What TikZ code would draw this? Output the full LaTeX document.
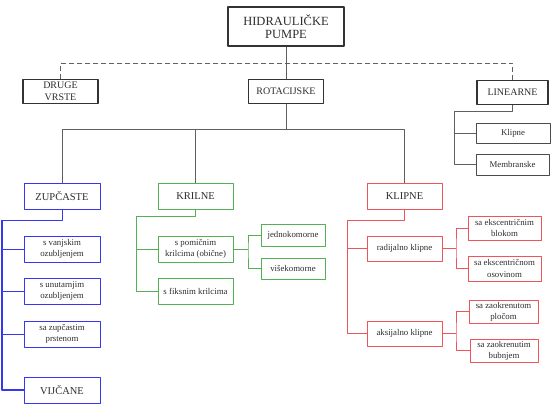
\documentclass[tikz,border=0pt]{standalone}
\usepackage{fontspec}
\setmainfont{Liberation Serif}
\definecolor{plava}{RGB}{55,55,240}
\definecolor{zelena}{RGB}{85,175,85}
\definecolor{crvena}{RGB}{238,85,90}
\definecolor{tekst}{RGB}{45,45,45}
\definecolor{linija}{RGB}{95,95,95}
\begin{document}
\begin{tikzpicture}[x=1pt,y=-1pt,line join=round,font=\fontsize{8.8}{11.2}\selectfont,
	kut/.style={draw,inner sep=0pt,align=center,text=tekst,minimum width=75pt,minimum height=26pt},
	naslov/.style={font=\fontsize{10.5}{11}\selectfont},
	glavna/.style={kut,naslov,line width=1.3pt,draw=black!80},
	siva/.style={kut,line width=.9pt,draw=black!70,minimum width=73pt,minimum height=21pt},
	plavo/.style={kut,line width=1pt,draw=plava},
	zeleno/.style={kut,line width=.8pt,draw=zelena},
	crveno/.style={kut,line width=.8pt,draw=crvena},
	veza/.style={draw=linija,line width=.8pt}]
	\useasboundingbox (0,0) rectangle (553,410);
	% vrh
	\node[glavna,minimum width=116pt,minimum height=39pt,font=\fontsize{12.5}{13.5}\selectfont,line width=1.6pt] (hp) at (286,26.5) {HIDRAULIČKE\\PUMPE};
	\node[glavna,minimum height=24pt,font=\fontsize{10}{11.5}\selectfont] (druge) at (60.5,91.5) {DRUGE\\VRSTE};
	\node[glavna,minimum height=24pt,font=\fontsize{10}{11}\selectfont] (rot) at (286,91.5) {ROTACIJSKE};
	\node[glavna,minimum width=71pt,minimum height=24pt,font=\fontsize{10}{11}\selectfont] (lin) at (512.5,92.5) {LINEARNE};
	\coordinate (dsh) at (286,63);
	\draw[veza,dashed,dash pattern=on 5pt off 3pt,line width=1pt] (druge.north) -- (druge.north |- dsh) -- (lin.north |- dsh) -- (lin.north);
	\draw[veza,line width=1pt] (hp) -- (rot);
	% linearne
	\node[siva,minimum width=74pt,minimum height=20pt] (lklip) at (513,133) {Klipne};
	\node[siva] (lmem) at (512.5,164.5) {Membranske};
	\coordinate (lb) at (454,111);
	\draw[veza] (lin.south) |- (lb) |- (lmem.west);
	\draw[veza] (lb |- lklip.west) -- (lklip.west);
	% rotacijske
	\node[plavo,naslov,minimum width=76pt] (zup) at (62,196) {ZUPČASTE};
	\node[zeleno,naslov] (kril) at (195.5,196) {KRILNE};
	\node[crveno,naslov] (klip) at (404.5,196) {KLIPNE};
	\coordinate (rb) at (286,129);
	\draw[veza] (rot.south) -- (rb);
	\draw[veza] (zup.north) -- (zup.north |- rb) -- (klip.north |- rb) -- (klip.north);
	\draw[veza] (kril.north) -- (kril.north |- rb);
	% zupcaste
	\node[plavo,minimum width=76pt] (zv) at (62,249) {s vanjskim\\ozubljenjem};
	\node[plavo,minimum width=76pt] (zu) at (62,291) {s unutarnjim\\ozubljenjem};
	\node[plavo,minimum width=76pt] (zp) at (62,334) {sa zupčastim\\prstenom};
	\node[plavo,naslov,minimum width=76pt] (zvij) at (62,390) {VIJČANE};
	\coordinate (zb) at (2,220);
	\draw[plava,line width=1pt] (zup.south) |- (zb);
	\draw[plava,line width=1.8pt] (zb) |- (zvij.west);
	\foreach \n in {zv,zu,zp} \draw[plava,line width=1pt] (zb |- \n.west) -- (\n.west);
	% krilne
	\node[zeleno] (kpom) at (195.5,249) {s pomičnim\\krilcima (obične)};
	\node[zeleno] (kfiks) at (195.5,291) {s fiksnim krilcima};
	\node[zeleno,minimum width=64pt,minimum height=22pt] (kjed) at (293,235) {jednokomorne};
	\node[zeleno,minimum width=64pt,minimum height=21pt] (kvis) at (293,268.5) {višekomorne};
	\coordinate (kb) at (136,216);
	\draw[zelena,line width=.8pt] (kril.south) |- (kb) |- (kfiks.west);
	\draw[zelena,line width=.8pt] (kb |- kpom.west) -- (kpom.west);
	\coordinate (kb2) at (248,249);
	\draw[zelena,line width=.8pt] (kpom.east) -- (kb2);
	\draw[zelena,line width=.8pt] (kjed.west) -| (kb2) |- (kvis.west);
	% klipne
	\node[crveno,minimum height=25pt] (rad) at (404.5,248.5) {radijalno klipne};
	\node[crveno,minimum height=25pt] (aks) at (404.5,333.5) {aksijalno klipne};
	\node[crveno,minimum width=73pt,minimum height=24pt] (rblok) at (504.5,228) {sa ekscentričnim\\blokom};
	\node[crveno,minimum width=73pt,minimum height=25pt] (rosov) at (504.5,268.5) {sa ekscentričnom\\osovinom};
	\node[crveno,minimum width=69pt,minimum height=23pt] (aploc) at (503.5,311.5) {sa zaokrenutom\\pločom};
	\node[crveno,minimum width=68pt,minimum height=23pt] (abub) at (504,350.5) {sa zaokrenutim\\bubnjem};
	\coordinate (pb) at (347,220);
	\draw[crvena,line width=.8pt] (klip.south) |- (pb) |- (aks.west);
	\draw[crvena,line width=.8pt] (pb |- rad.west) -- (rad.west);
	\coordinate (rb2) at (456,248.5);
	\draw[crvena,line width=.8pt] (rad.east) -- (rb2);
	\draw[crvena,line width=.8pt] (rblok.west) -| (rb2) |- (rosov.west);
	\coordinate (ab2) at (456,333.5);
	\draw[crvena,line width=.8pt] (aks.east) -- (ab2);
	\draw[crvena,line width=.8pt] (aploc.west) -| (ab2) |- (abub.west);
\end{tikzpicture}
\end{document}
